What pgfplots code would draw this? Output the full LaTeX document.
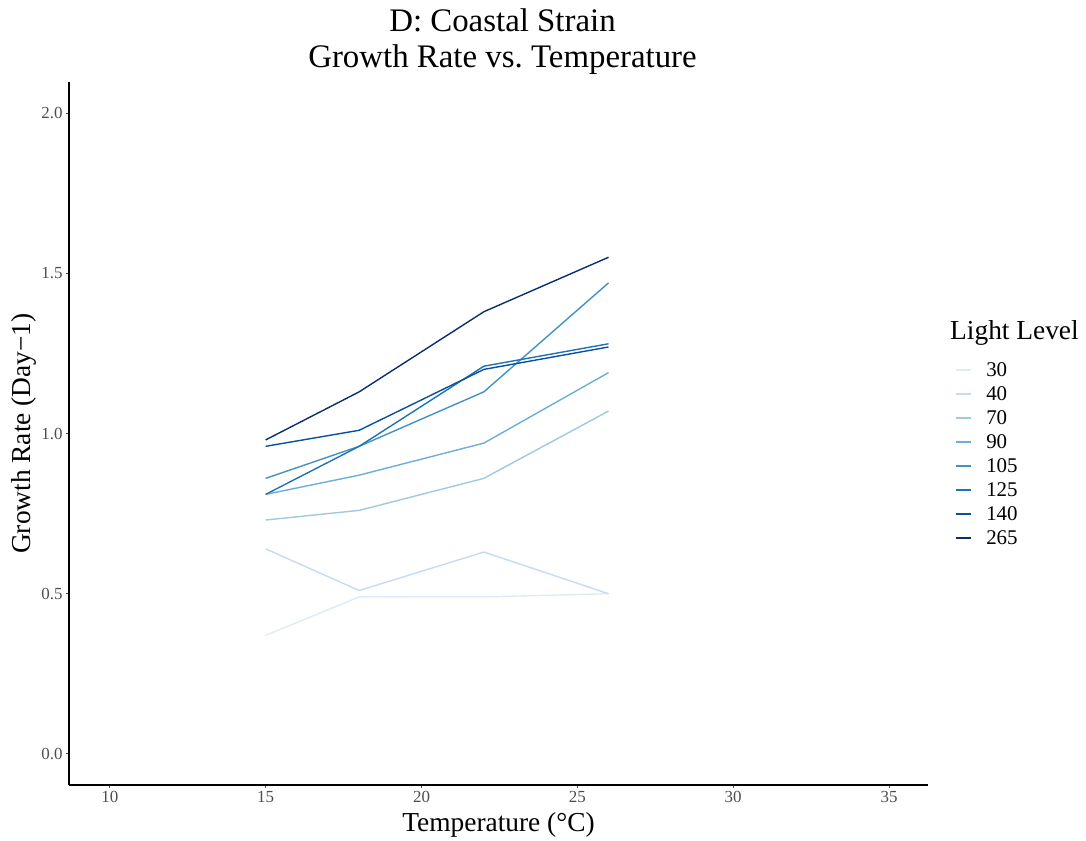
\documentclass[border=0pt]{standalone}
\usepackage{pgfplots}
\pgfplotsset{compat=1.18}
\usepackage{fontspec}
\setmainfont{Liberation Serif}
\frenchspacing

% Blues palette, light to dark
\definecolor{b30}{HTML}{DEEBF7}
\definecolor{b40}{HTML}{C6DBEF}
\definecolor{b70}{HTML}{9ECAE1}
\definecolor{b90}{HTML}{6BAED6}
\definecolor{b105}{HTML}{4292C6}
\definecolor{b125}{HTML}{2171B5}
\definecolor{b140}{HTML}{08519C}
\definecolor{b265}{HTML}{08306B}
\definecolor{ticktext}{HTML}{4D4D4D}

\begin{document}
\begin{tikzpicture}[x=1bp,y=1bp]
\begin{axis}[
  scale only axis,
  width=859bp, height=703bp,
  xmin=8.69, xmax=36.25,
  ymin=-0.097, ymax=2.097,
  axis x line*=bottom, axis y line*=left,
  axis line style={black, line width=2.4bp, -},
  xtick={10,15,20,25,30,35},
  ytick={0,0.5,1,1.5,2},
  yticklabel style={/pgf/number format/fixed, /pgf/number format/fixed zerofill, /pgf/number format/precision=1},
  /pgf/number format/assume math mode=true,
  tick align=outside,
  major tick length=3bp,
  tick style={ticktext, line width=0.9bp},
  ticklabel style={font=\fontsize{17}{20}\selectfont, text=ticktext},
  xlabel={Temperature (°C)},
  ylabel={Growth Rate (Day−1)},
  label style={font=\fontsize{27.5}{32}\selectfont},
  xlabel style={yshift=-3bp},
  ylabel style={yshift=-2bp},
  title={D: Coastal Strain\\Growth Rate vs. Temperature},
  title style={font=\fontsize{33}{36}\selectfont, align=center, yshift=-2bp, xshift=4bp},
  legend cell align=left,
  legend style={draw=none, fill=none, at={(rel axis cs:1.028,0.606)}, anchor=north west,
    font=\fontsize{21}{24}\selectfont, row sep=6.6bp,
    nodes={inner xsep=0bp, inner ysep=1bp},
    /tikz/every odd column/.append style={column sep=14bp}},
  legend image code/.code={\draw[#1, line width=2bp] (0bp,0bp) -- (15bp,0bp);},
  every axis plot/.append style={line width=1.4bp},
  clip=false,
]
\addplot[b30] coordinates {(15,0.37) (18,0.49) (22,0.49) (26,0.50)};
\addlegendentry{30}
\addplot[b40] coordinates {(15,0.64) (18,0.51) (22,0.63) (26,0.50)};
\addlegendentry{40}
\addplot[b70] coordinates {(15,0.73) (18,0.76) (22,0.86) (26,1.07)};
\addlegendentry{70}
\addplot[b90] coordinates {(15,0.81) (18,0.87) (22,0.97) (26,1.19)};
\addlegendentry{90}
\addplot[b105] coordinates {(15,0.86) (18,0.96) (22,1.13) (26,1.47)};
\addlegendentry{105}
\addplot[b125] coordinates {(15,0.81) (18,0.96) (22,1.21) (26,1.28)};
\addlegendentry{125}
\addplot[b140] coordinates {(15,0.96) (18,1.01) (22,1.20) (26,1.27)};
\addlegendentry{140}
\addplot[b265] coordinates {(15,0.98) (18,1.13) (22,1.38) (26,1.55)};
\addlegendentry{265}
\node[anchor=west, font=\fontsize{27.5}{32}\selectfont, inner sep=0pt] at (rel axis cs:1.0256,0.643) {Light Level};
\end{axis}
\path ([xshift=-69bp,yshift=-56bp]current axis.south west) rectangle ++(1086bp,841bp);
\end{tikzpicture}
\end{document}
